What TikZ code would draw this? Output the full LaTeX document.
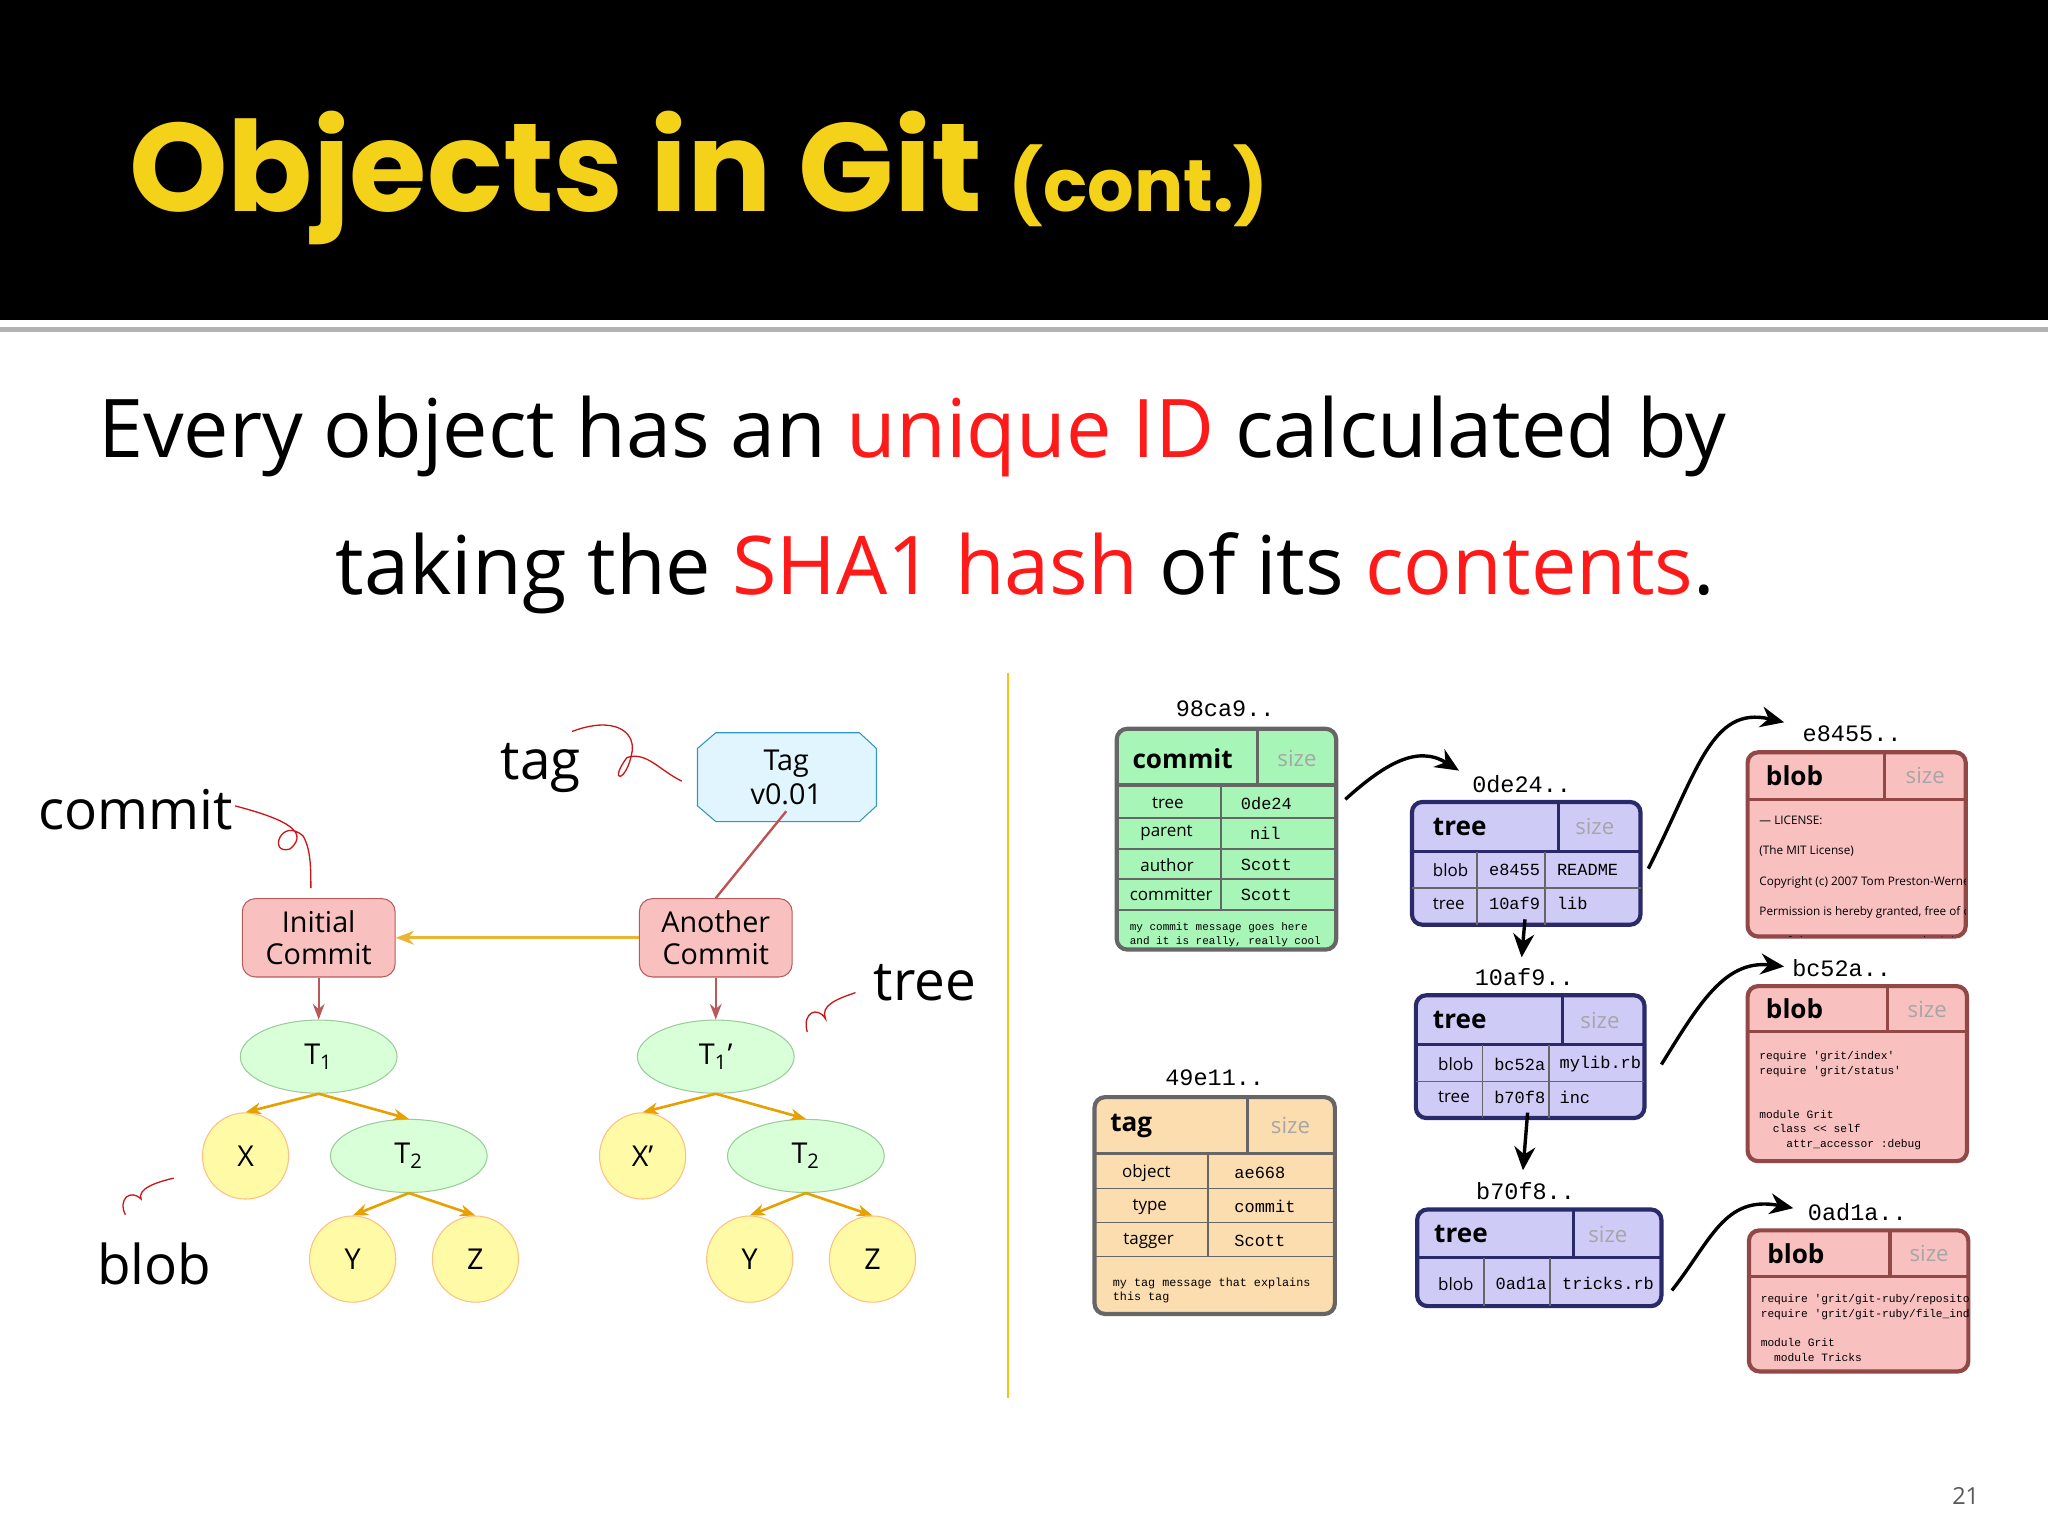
\documentclass[tikz,border=0pt]{standalone}
\usepackage{fontspec}
\setmainfont{Open Sans}
\newfontfamily\titlefont{Poppins}
\setmonofont{Liberation Mono}
\usetikzlibrary{arrows.meta,shapes.geometric,calc}
\definecolor{gold}{HTML}{F5D21A}
\definecolor{cgreen}{HTML}{A8F5B8}
\definecolor{cblue}{HTML}{CFCBF7}
\definecolor{cnavy}{HTML}{2A2A6A}
\definecolor{cpink}{HTML}{F9C0C0}
\definecolor{cpinkd}{HTML}{B85A5A}
\definecolor{ctan}{HTML}{FCDDB0}
\definecolor{cgray}{HTML}{666666}
\definecolor{redt}{HTML}{FF1A1A}
\definecolor{orarr}{HTML}{E8A000}
\tikzset{
 lbl/.style={font=\fontsize{21}{24}\selectfont},
 idl/.style={font=\ttfamily\fontsize{9}{10}\selectfont},
 cell/.style={font=\fontsize{6.5}{7}\selectfont,anchor=west},
 mcell/.style={font=\ttfamily\fontsize{6.5}{7}\selectfont,anchor=west},
 hd/.style={font=\bfseries\fontsize{10}{11}\selectfont,anchor=west},
 sz/.style={font=\fontsize{8.5}{9}\selectfont,text=gray!70,anchor=center},
 tiny/.style={font=\fontsize{4.2}{5}\selectfont,anchor=north west,align=left},
 cbox/.style={draw=cpinkd,fill=cpink,rounded corners=5pt,minimum width=58.5pt,minimum height=30pt,align=center,font=\fontsize{11}{12.5}\selectfont},
 ell/.style={ellipse,draw=green!50!black!40,fill=green!15,minimum width=60pt,minimum height=28pt,font=\fontsize{11}{12}\selectfont},
 circ/.style={circle,draw=orange!50,fill=yellow!35,minimum size=33pt,font=\fontsize{11}{12}\selectfont},
 tarr/.style={-{Stealth[length=6pt]},orarr,line width=1pt},
 rarr/.style={-{Stealth[length=6pt]},cpinkd,line width=0.8pt},
 barr/.style={-{Stealth[length=9pt,width=8pt]},black,line width=1.3pt},
 squig/.style={redt!80!black,line width=0.5pt},
}
\begin{document}
\begin{tikzpicture}[x=0.5pt,y=-0.5pt]
\useasboundingbox (0,0) rectangle (1568,1176);
\fill[white] (0,0) rectangle (1568,1176);
\fill[black] (0,0) rectangle (1568,245);
\fill[gray!60] (0,250) rectangle (1568,254);
\node[anchor=base west,text=gold,font=\titlefont\bfseries\fontsize{48}{52}\selectfont] (title) at (92,162) {Objects in Git \fontsize{28}{30}\selectfont(cont.)};
\node[anchor=base west,font=\fontsize{31}{36}\selectfont] (l1) at (68,350) {Every object has an \textcolor{redt}{unique ID} calculated by};
\node[anchor=base west,font=\fontsize{31}{36}\selectfont] (l2) at (250,455) {taking the \textcolor{redt}{SHA1 hash} of its \textcolor{redt}{contents}.};
\draw[gold!80!orange,line width=0.8pt] (772,515) -- (772,1070);
\node[font=\fontsize{9}{10}\selectfont,text=gray!70!black] (pg) at (1505,1145) {21};

% ---- left diagram
\node[lbl] (lcommit) at (104,620) {commit};
\node[lbl] (ltag) at (414,588) {tag};
\node[lbl] (ltree) at (708,752) {tree};
\node[lbl] (lblob) at (118,968) {blob};
\draw[draw=cyan!50!teal,fill=cyan!12] (548,561) -- (658,561) -- (671,573) -- (671,617) -- (658,629) -- (548,629) -- (534,617) -- (534,573) -- cycle;
\node[align=center,font=\fontsize{11}{13}\selectfont] (tag) at (602,595) {Tag\\v0.01};
\node[cbox] (ic) at (244,718) {Initial\\Commit};
\node[cbox] (ac) at (548,718) {Another\\Commit};
\node[ell] (t1) at (244,809) {T\textsubscript{1}};
\node[ell] (t1b) at (548,809) {T\textsubscript{1}’};
\node[circ] (x) at (188,885) {X};
\node[circ] (xb) at (492,885) {X’};
\node[ell] (t2) at (313,885) {T\textsubscript{2}};
\node[ell] (t2b) at (617,885) {T\textsubscript{2}};
\node[circ] (y) at (270,964) {Y};
\node[circ] (z) at (364,964) {Z};
\node[circ] (yb) at (574,964) {Y};
\node[circ] (zb) at (668,964) {Z};
\draw[-{Stealth[length=7pt]},orarr!80,line width=1pt] (ac) -- (ic);
\draw[rarr] (ic) -- (t1);
\draw[rarr] (ac) -- (t1b);
\draw[cpinkd!90!red,line width=0.9pt] (tag.south) ++(0,-2) -- (ac.north);
\foreach \a/\b in {t1/x,t1/t2,t2/y,t2/z,t1b/xb,t1b/t2b,t2b/yb,t2b/zb}{\draw[tarr] (\a.south) -- (\b.north);}
\draw[squig] (180,617) .. controls (210,625) and (240,635) .. (222,650) .. controls (205,655) and (215,625) .. (232,640) .. controls (238,650) and (238,665) .. (238,680);
\draw[squig] (522,598) .. controls (505,590) and (495,575) .. (480,580) .. controls (465,600) and (480,600) .. (484,575) .. controls (486,560) and (470,548) .. (438,560);
\draw[squig] (655,760) .. controls (640,765) and (628,770) .. (632,780) .. controls (626,770) and (614,775) .. (618,790);
\draw[squig] (133,902) .. controls (120,905) and (105,910) .. (108,918) .. controls (100,910) and (90,918) .. (96,930);

% ---- commit 98ca9
\node[idl] (id1) at (938,543) {98ca9..};
\draw[fill=cgreen,draw=cgray,line width=1.6pt,rounded corners=4pt] (855,558) rectangle (1023,727);
\draw[cgray,line width=1.2pt] (855,601) -- (1023,601) (963,558) -- (963,601);
\draw[cgray,line width=0.7pt] (855,626)--(1023,626) (855,650)--(1023,650) (855,673)--(1023,673) (855,697)--(1023,697) (935,601)--(935,697);
\node[hd] (c1h) at (860,581) {commit}; \node[sz] (c1s) at (993,581) {size};
\node[cell] (r1) at (875,615) {tree}; \node[mcell] (r1b) at (943,615) {0de24};
\node[cell] (r2) at (866,638) {parent}; \node[mcell] (r2b) at (950,638) {nil};
\node[cell] (r3) at (866,662) {author}; \node[mcell] (r3b) at (943,662) {Scott};
\node[cell] (r4) at (858,685) {committer}; \node[mcell] (r4b) at (943,685) {Scott};
\node[tiny,font=\ttfamily\fontsize{4.2}{5.5}\selectfont] (r5) at (858,699) {my commit message goes here\\and it is really, really cool};

% ---- tag 49e11
\node[idl] (id2) at (930,825) {49e11..};
\draw[fill=ctan,draw=cgray,line width=1.6pt,rounded corners=4pt] (838,840) rectangle (1022,1006);
\draw[cgray,line width=1.2pt] (838,883) -- (1022,883) (955,840) -- (955,883);
\draw[cgray,line width=0.7pt] (838,910)--(1022,910) (838,936)--(1022,936) (838,962)--(1022,962) (925,883)--(925,962);
\node[hd] (g1h) at (843,862) {tag}; \node[sz] (g1s) at (988,862) {size};
\node[cell] (g1) at (852,898) {object}; \node[mcell] (g1b) at (938,898) {ae668};
\node[cell] (g2) at (860,924) {type}; \node[mcell] (g2b) at (938,924) {commit};
\node[cell] (g3) at (853,950) {tagger}; \node[mcell] (g3b) at (938,950) {Scott};
\node[tiny,font=\ttfamily\fontsize{4.5}{5.5}\selectfont] (g4) at (845,971) {my tag message that explains\\this tag};

% ---- trees
\node[idl] (id3) at (1165,600) {0de24..};
\draw[fill=cblue,draw=cnavy,line width=1.6pt,rounded corners=4pt] (1081,614) rectangle (1256,708);
\draw[cnavy,line width=1.2pt] (1081,652) -- (1256,652) (1193,614) -- (1193,652);
\node[hd] (a0) at (1090,633) {tree}; \node[sz] (a0s) at (1221,633) {size};
\draw[cgray,line width=0.7pt] (1081,680)--(1256,680) (1131,652)--(1131,708) (1183,652)--(1183,708);
\node[cell] (a1) at (1090,666) {blob}; \node[mcell] (a1b) at (1133,666) {e8455}; \node[mcell] (a1c) at (1185,666) {README};
\node[cell] (a2) at (1090,692) {tree}; \node[mcell] (a2b) at (1133,692) {10af9}; \node[mcell] (a2c) at (1185,692) {lib};
\node[idl] (id4) at (1167,748) {10af9..};
\draw[fill=cblue,draw=cnavy,line width=1.6pt,rounded corners=4pt] (1084,762) rectangle (1259,856);
\draw[cnavy,line width=1.2pt] (1084,800) -- (1259,800) (1196,762) -- (1196,800);
\node[hd] (b0) at (1090,781) {tree}; \node[sz] (b0s) at (1225,781) {size};
\draw[cgray,line width=0.7pt] (1084,828)--(1259,828) (1135,800)--(1135,856) (1186,800)--(1186,856);
\node[cell] (b1) at (1094,815) {blob}; \node[mcell] (b1b) at (1137,815) {bc52a}; \node[mcell] (b1c) at (1187,815) {mylib.rb};
\node[cell] (b2) at (1094,840) {tree}; \node[mcell] (b2b) at (1137,840) {b70f8}; \node[mcell] (b2c) at (1187,840) {inc};
\node[idl] (id5) at (1168,912) {b70f8..};
\draw[fill=cblue,draw=cnavy,line width=1.6pt,rounded corners=4pt] (1085,926) rectangle (1272,1000);
\draw[cnavy,line width=1.2pt] (1085,963) -- (1272,963) (1205,926) -- (1205,963);
\node[hd] (d0) at (1091,945) {tree}; \node[sz] (d0s) at (1231,945) {size};
\draw[cgray,line width=0.7pt] (1136,963)--(1136,1000) (1187,963)--(1187,1000);
\node[cell] (d1) at (1094,983) {blob}; \node[mcell] (d1b) at (1138,983) {0ad1a}; \node[mcell] (d1c) at (1189,983) {tricks.rb};

% ---- blobs
\newcommand{\blobbox}[6]{%
 \draw[fill=cpink,draw=cpinkd!80!black,line width=1.6pt,rounded corners=4pt] (#1,#2) rectangle (#3,#4);
 \draw[cpinkd!80!black,line width=1.2pt] (#1,#5) -- (#3,#5) (#6,#2) -- (#6,#5);
 \node[hd] at (#1+7,{(#2+#5)/2}) {blob}; \node[sz] at ({(#6+#3)/2},{(#2+#5)/2}) {size};
}
\node[idl] (id6) at (1418,562) {e8455..};
\blobbox{1338}{576}{1505}{717}{612}{1443}
\begin{scope}
\clip (1338,612) rectangle (1505,717);
\node[tiny,font=\fontsize{4.5}{11.5}\selectfont] (e1) at (1340,618) {— LICENSE:\\(The MIT License)\\Copyright (c) 2007 Tom Preston-Werner\\Permission is hereby granted, free of charge\\ree of charge, to any person obtaining};
\end{scope}
\node[idl] (id7) at (1410,741) {bc52a..};
\blobbox{1338}{755}{1506}{889}{790}{1445}
\node[tiny,font=\ttfamily\fontsize{4.3}{5.6}\selectfont] (f1) at (1340,798) {require 'grit/index'\\require 'grit/status'\\~\\~\\module Grit\\~~class << self\\~~~~attr\_accessor :debug};
\node[idl] (id8) at (1422,928) {0ad1a..};
\blobbox{1339}{942}{1507}{1050}{977}{1447}
\begin{scope}
\clip (1339,977) rectangle (1507,1050);
\node[tiny,font=\ttfamily\fontsize{4.3}{5.6}\selectfont] (h1) at (1341,984) {require 'grit/git-ruby/repository'\\require 'grit/git-ruby/file\_index'\\~\\module Grit\\~~module Tricks};
\end{scope}

% ---- black arrows
\draw[barr] (1030,612) .. controls (1060,585) and (1085,570) .. (1117,590);
\draw[barr] (1262,665) .. controls (1300,590) and (1310,540) .. (1366,553);
\draw[barr] (a2b.south) ++(8,0) -- (1165,733);
\draw[barr] (1272,815) .. controls (1300,770) and (1320,735) .. (1366,740);
\draw[barr] (b2b.south) ++(6,0) -- (1166,896);
\draw[barr] (1280,988) .. controls (1310,950) and (1320,915) .. (1373,925);
\end{tikzpicture}
\end{document}
